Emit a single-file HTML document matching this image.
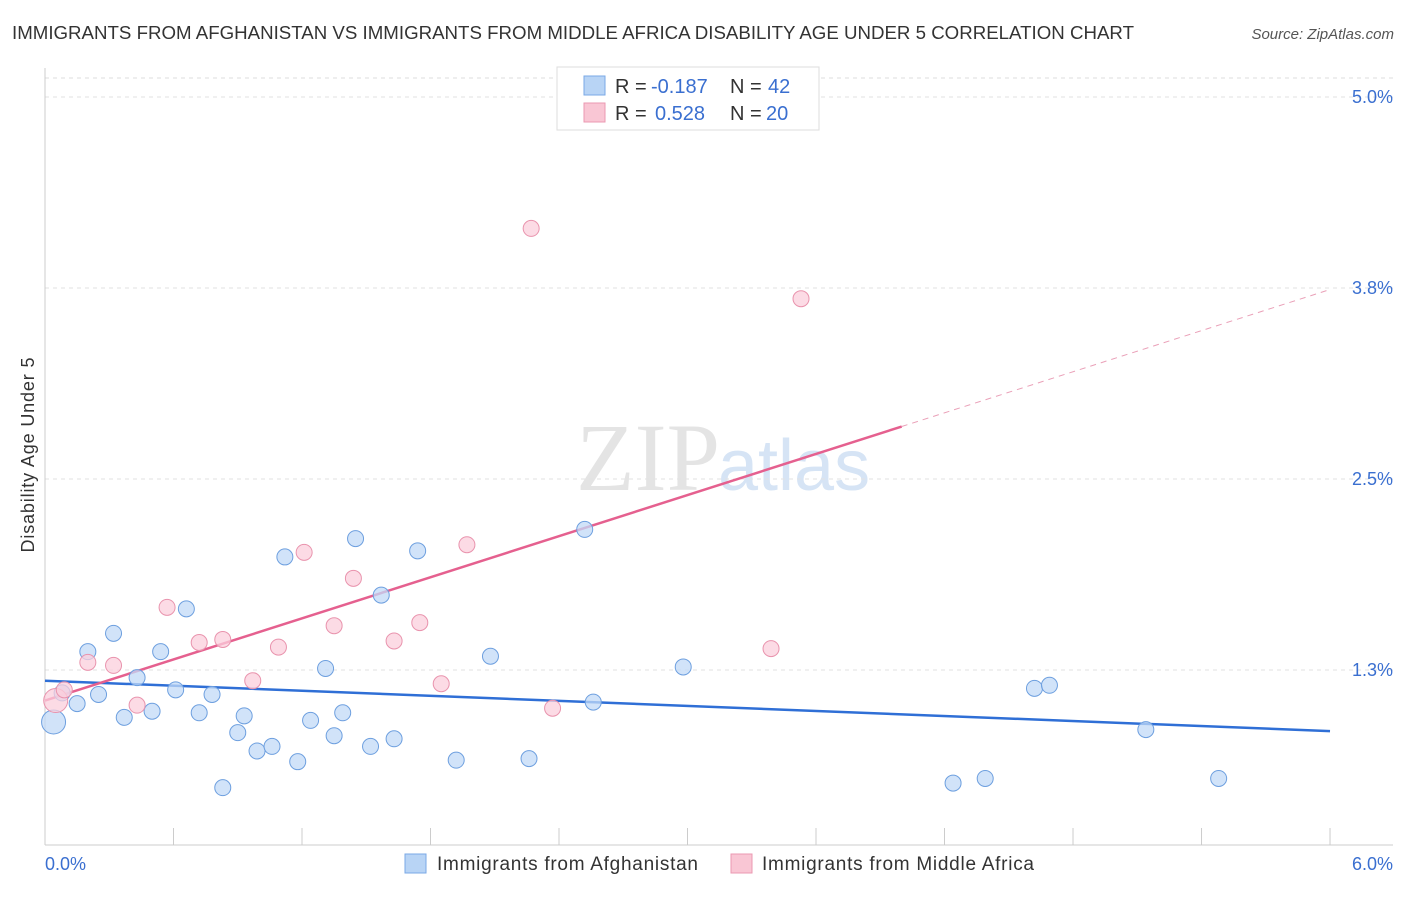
<!DOCTYPE html>
<html><head><meta charset="utf-8"><style>
body{margin:0;background:#fff;font-family:"Liberation Sans",sans-serif;}
svg text{font-family:"Liberation Sans",sans-serif;}
</style></head><body>
<svg id="chart" width="1406" height="892" xmlns="http://www.w3.org/2000/svg">
<text x="12" y="39" font-size="18" fill="#333" textLength="1122" lengthAdjust="spacingAndGlyphs">IMMIGRANTS FROM AFGHANISTAN VS IMMIGRANTS FROM MIDDLE AFRICA DISABILITY AGE UNDER 5 CORRELATION CHART</text>
<text x="1394" y="39" font-size="15" fill="#555" font-style="italic" text-anchor="end">Source: ZipAtlas.com</text>
<text x="720" y="490" font-size="96" fill="#e4e4e4" text-anchor="end" style="font-family:'Liberation Serif',serif">ZIP</text>
<text x="718" y="490" font-size="72" fill="#d6e4f5">atlas</text>
<text x="34" y="455" font-size="18" fill="#333" text-anchor="middle" transform="rotate(-90 34 455)" textLength="195">Disability Age Under 5</text>
<g id="grid"></g><g id="axes"></g><g id="lines"></g><g id="pts"></g>
<g>
<rect x="557" y="67" width="262" height="63" fill="#fff" stroke="#ddd"/>
<rect x="584" y="76" width="21" height="19" fill="#b8d4f5" stroke="#7aa8e6"/>
<rect x="584" y="103" width="21" height="19" fill="#f9c6d4" stroke="#eb98b2"/>
<text x="615" y="93" font-size="20" fill="#333">R = <tspan fill="#3a6fd0" x="651">-0.187</tspan><tspan x="730">N = </tspan><tspan fill="#3a6fd0" x="768">42</tspan></text>
<text x="615" y="120" font-size="20" fill="#333">R = <tspan fill="#3a6fd0" x="655">0.528</tspan><tspan x="730">N = </tspan><tspan fill="#3a6fd0" x="766">20</tspan></text>
</g>
<g>
<rect x="405" y="854" width="21" height="19" fill="#b8d4f5" stroke="#7aa8e6"/>
<text x="437" y="870" font-size="19" fill="#333" textLength="261">Immigrants from Afghanistan</text>
<rect x="731" y="854" width="21" height="19" fill="#f9c6d4" stroke="#eb98b2"/>
<text x="762" y="870" font-size="19" fill="#333" textLength="272">Immigrants from Middle Africa</text>
</g>
</svg>
<script>
const blueX=[0.04,0.08,0.15,0.20,0.25,0.32,0.37,0.43,0.50,0.54,0.61,0.66,0.72,0.78,0.83,0.90,0.93,0.99,1.06,1.12,1.18,1.24,1.31,1.35,1.39,1.45,1.52,1.57,1.63,1.74,1.92,2.08,2.26,2.52,2.56,2.98,4.24,4.39,4.62,4.69,5.14,5.48];
const blueY=[0.91,1.10,1.03,1.37,1.09,1.49,0.94,1.20,0.98,1.37,1.12,1.65,0.97,1.09,0.48,0.84,0.95,0.72,0.75,1.99,0.65,0.92,1.26,0.82,0.97,2.11,0.75,1.74,0.80,2.03,0.66,1.34,0.67,2.17,1.04,1.27,0.51,0.54,1.13,1.15,0.86,0.54];
const pinkX=[0.05,0.09,0.20,0.32,0.43,0.57,0.72,0.83,0.97,1.09,1.21,1.35,1.44,1.63,1.75,1.85,1.97,2.27,2.37,3.39,3.53];
const pinkY=[1.05,1.12,1.30,1.28,1.02,1.66,1.43,1.45,1.18,1.40,2.02,1.54,1.85,1.44,1.56,1.16,2.07,4.14,1.00,1.39,3.68];
const yTicks=[1.25,2.5,3.75,5.0];
const yTickLabels=["1.3%","2.5%","3.8%","5.0%"];
const xTickLabels=["0.0%","6.0%"];
const blueTrend=[1.18,0.85];
const pinkTrend=[1.05,3.74];
const pinkSolidEnd=4.0;
const NS="http://www.w3.org/2000/svg";
const sx=v=>45+v*214.17, sy=v=>861-v*152.8;
function mk(t,a,p){const e=document.createElementNS(NS,t);for(const k in a)e.setAttribute(k,a[k]);p.appendChild(e);return e;}
const grid=document.getElementById('grid'),axes=document.getElementById('axes'),lines=document.getElementById('lines'),pts=document.getElementById('pts');
let g=mk('line',{x1:45,x2:1393,y1:78,y2:78,stroke:'#ddd','stroke-dasharray':'4,4'},grid);


yTicks.forEach((t,i)=>{
 const l=mk('line',{x1:45,x2:1393,y1:sy(t),y2:sy(t),stroke:'#e2e2e2','stroke-dasharray':'4,4'},grid);
 
 
 const tx=mk('text',{x:1393,y:sy(t)+6,'font-size':18,fill:'#3a6fd0','text-anchor':'end'},axes);
 tx.textContent=yTickLabels[i];
 
 
});
let a=mk('line',{x1:45,x2:1393,y1:845,y2:845,stroke:'#ccc'},axes);


a=mk('line',{x1:45,x2:45,y1:68,y2:845,stroke:'#ccc'},axes);


for(let i=0;i<=10;i++){const x=sx(i*0.6);const t=mk('line',{x1:x,x2:x,y1:828,y2:845,stroke:'#ccc'},axes);
 
 }
[[0,'start',45],[1,'end',1393]].forEach(([i,an,x])=>{const t=mk('text',{x:x,y:870,'font-size':18,fill:'#3a6fd0','text-anchor':an},axes);t.textContent=xTickLabels[i];
 
 });
function dots(X,Y,fill,stroke,name){X.forEach((x,i)=>{const r=(i===0)?12:8;const c=mk('circle',{cx:sx(x),cy:sy(Y[i]),r:r,fill:fill,stroke:stroke,'stroke-width':1,'fill-opacity':0.75},pts);
 
 });}
dots(blueX,blueY,'#c2daf7','#6d9fdf','afghanistan-point');
dots(pinkX,pinkY,'#fbcfdc','#e993ad','middle-africa-point');
let l=mk('line',{x1:sx(0),y1:sy(blueTrend[0]),x2:sx(6),y2:sy(blueTrend[1]),stroke:'#2f6fd6','stroke-width':2.5},lines);


const py=v=>pinkTrend[0]+(pinkTrend[1]-pinkTrend[0])*v/6;
l=mk('line',{x1:sx(0),y1:sy(py(0)),x2:sx(pinkSolidEnd),y2:sy(py(pinkSolidEnd)),stroke:'#e5608f','stroke-width':2.5},lines);


l=mk('line',{x1:sx(pinkSolidEnd),y1:sy(py(pinkSolidEnd)),x2:sx(6),y2:sy(py(6)),stroke:'#eaa0b8','stroke-width':1,'stroke-dasharray':'6,5'},lines);


</script>
</body></html>
